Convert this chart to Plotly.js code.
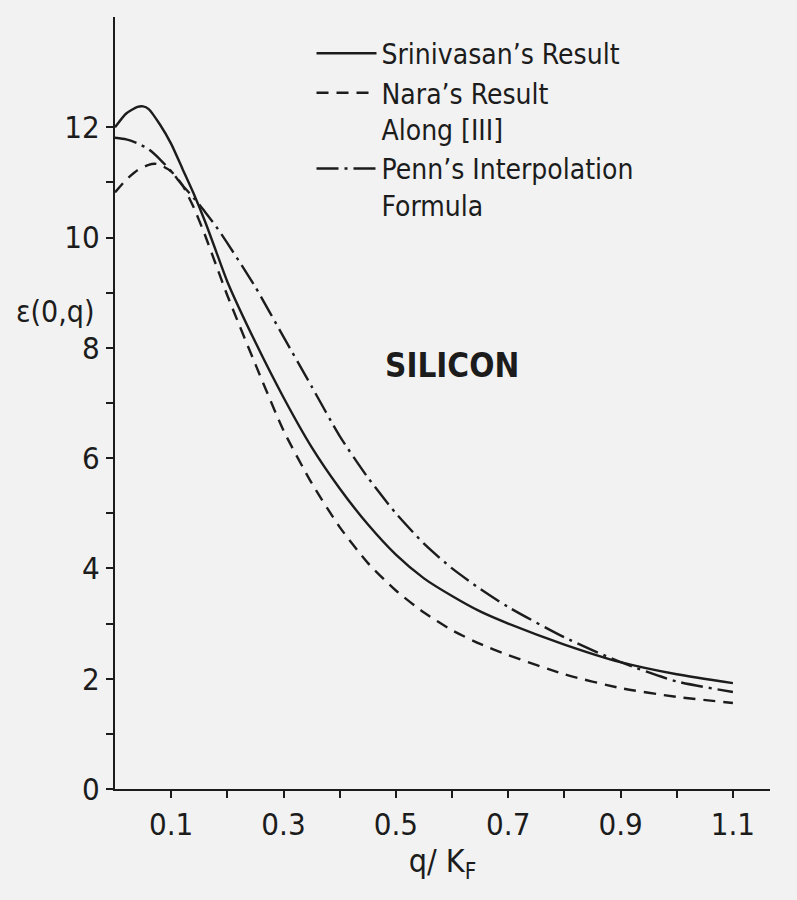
<!DOCTYPE html>
<html>
<head>
<meta charset="utf-8">
<script src="https://cdn.plot.ly/plotly-3.0.1.min.js"></script>
<style>
  body { margin: 0; background: #f2f2f2; }
  #chart { width: 797px; height: 900px; }
</style>
</head>
<body>
<div id="chart"></div>
<script>
// q/KF values and the three dielectric-function curves
var qSrini = [0, 0.02, 0.04, 0.05, 0.06, 0.08, 0.1, 0.12, 0.14, 0.16, 0.18, 0.2, 0.25, 0.3, 0.35, 0.4, 0.45, 0.5, 0.55, 0.6, 0.65, 0.7, 0.8, 0.9, 1.0, 1.1];
var epsSrini = [12.0, 12.25, 12.37, 12.38, 12.33, 12.05, 11.7, 11.25, 10.8, 10.3, 9.75, 9.2, 8.1, 7.1, 6.2, 5.45, 4.8, 4.25, 3.82, 3.5, 3.22, 3.0, 2.62, 2.3, 2.08, 1.92];

var qNara = [0, 0.02, 0.04, 0.06, 0.07, 0.08, 0.1, 0.12, 0.14, 0.16, 0.18, 0.2, 0.25, 0.3, 0.35, 0.4, 0.45, 0.5, 0.55, 0.6, 0.65, 0.7, 0.8, 0.9, 1.0, 1.1];
var epsNara = [10.82, 11.05, 11.22, 11.32, 11.34, 11.32, 11.2, 10.95, 10.55, 10.05, 9.5, 8.95, 7.7, 6.5, 5.55, 4.75, 4.1, 3.6, 3.2, 2.88, 2.63, 2.43, 2.08, 1.83, 1.67, 1.56];

var qPenn = [0, 0.02, 0.04, 0.06, 0.08, 0.1, 0.12, 0.14, 0.16, 0.18, 0.2, 0.25, 0.3, 0.35, 0.4, 0.45, 0.5, 0.55, 0.6, 0.65, 0.7, 0.8, 0.9, 1.0, 1.1];
var epsPenn = [11.81, 11.78, 11.71, 11.6, 11.42, 11.2, 10.95, 10.72, 10.47, 10.2, 9.9, 9.1, 8.2, 7.3, 6.4, 5.65, 5.0, 4.45, 4.0, 3.63, 3.3, 2.75, 2.3, 1.95, 1.76];

var xTicks = [0.1, 0.3, 0.5, 0.7, 0.9, 1.1];
var xMinor = [0.2, 0.4, 0.6, 0.8, 1.0];
var yTicks = [0, 2, 4, 6, 8, 10, 12];
var yMinor = [1, 3, 5, 7, 9, 11];

var ink = "#1c1c1c";
var narrow = "DejaVu Sans Condensed, DejaVu Sans, sans-serif";

var data = [
  {
    x: qSrini, y: epsSrini,
    name: "Srinivasan’s Result",
    type: "scatter", mode: "lines",
    line: { color: ink, width: 2.4, shape: "spline", smoothing: 0.6 }
  },
  {
    x: qNara, y: epsNara,
    name: "Nara’s Result<br>Along [III]",
    type: "scatter", mode: "lines",
    line: { color: ink, width: 2.4, dash: "12px,8px", shape: "spline", smoothing: 0.6 }
  },
  {
    x: qPenn, y: epsPenn,
    name: "Penn’s Interpolation<br>Formula",
    type: "scatter", mode: "lines",
    line: { color: ink, width: 2.4, dash: "22px,6px,3px,6px", shape: "spline", smoothing: 0.6 }
  }
];

var layout = {
  width: 797,
  height: 900,
  paper_bgcolor: "#f2f2f2",
  plot_bgcolor: "#f2f2f2",
  margin: { l: 115, r: 27, t: 17, b: 111 },
  font: { family: narrow, color: ink },
  showlegend: true,
  legend: {
    x: 0.3, y: 0.985, xanchor: "left", yanchor: "top",
    bgcolor: "rgba(0,0,0,0)",
    font: { family: narrow, size: 28, color: ink },
    itemwidth: 60,
    valign: "top",
    tracegroupgap: 0
  },
  xaxis: {
    range: [0, 1.166],
    showgrid: false, zeroline: false,
    showline: true, linecolor: ink, linewidth: 2,
    ticks: "outside", ticklen: 7, tickwidth: 2, tickcolor: ink,
    tickmode: "array", tickvals: xTicks,
    tickfont: { family: narrow, size: 31, color: ink },
    minor: { tickmode: "array", tickvals: xMinor, ticks: "outside", ticklen: 7, tickwidth: 2, tickcolor: ink, showgrid: false },
    title: { text: "q/ K<sub>F</sub>", font: { family: narrow, size: 32, color: ink }, standoff: 8 }
  },
  yaxis: {
    range: [0, 14],
    showgrid: false, zeroline: false,
    showline: true, linecolor: ink, linewidth: 2,
    ticks: "outside", ticklen: 7, tickwidth: 2, tickcolor: ink,
    tickmode: "array", tickvals: yTicks,
    tickfont: { family: narrow, size: 31, color: ink },
    minor: { tickmode: "array", tickvals: yMinor, ticks: "outside", ticklen: 7, tickwidth: 2, tickcolor: ink, showgrid: false }
  },
  annotations: [
    {
      text: "ε(0,q)", xref: "paper", yref: "paper",
      x: -0.027, y: 0.618, xanchor: "right", yanchor: "middle",
      showarrow: false, font: { family: narrow, size: 30, color: ink }
    },
    {
      text: "<b>SILICON</b>", xref: "x", yref: "y",
      x: 0.6, y: 7.68, xanchor: "center", yanchor: "middle",
      showarrow: false, font: { family: narrow, size: 33, color: ink }
    }
  ]
};

Plotly.newPlot(document.getElementById("chart"), data, layout, { displayModeBar: false, staticPlot: true });
</script>
</body>
</html>
